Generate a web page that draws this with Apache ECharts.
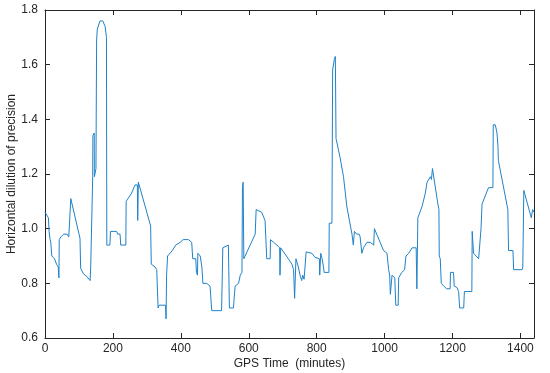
<!DOCTYPE html>
<html>
<head>
<meta charset="utf-8">
<script src="https://cdn.jsdelivr.net/npm/echarts@6/dist/echarts.min.js"></script>
<style>html,body{margin:0;padding:0;background:#fff}#c{width:550px;height:373px}</style>
</head>
<body>
<div id="c"></div>
<script>
// GPS time (minutes)
var minutes = [
  0, 5, 10, 12, 15, 17, 20, 28, 34, 39, 41, 42, 47, 55, 65, 70, 74, 76, 103, 105,
  113, 123, 133, 134.6, 139, 140.5, 141, 145, 145.4, 147, 150, 152, 154, 162, 170, 177, 181, 182, 191, 193,
  211, 214, 221, 223, 238, 239, 255, 265, 272, 273, 275, 311, 313, 324, 329, 332, 333, 336, 355, 356.5,
  358, 361, 375, 385, 398, 407, 422, 432, 435, 444, 446, 449, 450, 457, 462, 465, 476, 486, 491, 520,
  523.6, 540, 542, 543, 555, 557, 560, 570, 575, 580, 581.5, 583.5, 585.5, 619, 621.8, 638, 648, 651, 653, 663,
  664, 673, 683, 688, 691, 692, 694, 722, 727, 732, 735, 737, 739, 746, 751, 756, 759, 763, 766, 768,
  769, 786, 795, 808, 809, 811, 812, 816, 820, 822, 836, 837, 845, 847, 852, 855, 857, 869, 879, 889,
  904, 908, 911, 918, 925, 928, 933, 938, 948, 953, 958, 963, 968, 970, 997, 1007, 1011, 1012, 1015, 1017,
  1020, 1022, 1030, 1033, 1040, 1041.5, 1046, 1051, 1059, 1062, 1063, 1071, 1081, 1093, 1095, 1098, 1110, 1120, 1125, 1135,
  1138, 1141, 1157, 1160, 1161, 1164, 1167, 1174, 1183, 1193, 1194, 1203, 1205, 1213, 1218, 1221, 1233, 1235, 1257, 1258,
  1262, 1277, 1282, 1284, 1287, 1306, 1319, 1320, 1326, 1331, 1334, 1335, 1363, 1365, 1378, 1380, 1405, 1407, 1410, 1432,
  1436, 1440
];
// Horizontal dilution of precision
var hdop = [
  1.06, 1.05, 1.04, 0.99, 0.96, 0.95, 0.90, 0.89, 0.87, 0.86, 0.82, 0.96, 0.97, 0.98, 0.98, 0.97, 0.97, 1.11, 0.965, 0.855,
  0.835, 0.825, 0.81, 0.86, 0.86, 1.19, 1.34, 1.35, 1.19, 1.20, 1.22, 1.69, 1.73, 1.76, 1.76, 1.74, 1.70, 0.94, 0.94, 0.99,
  0.99, 0.98, 0.98, 0.94, 0.94, 1.10, 1.13, 1.16, 1.16, 1.03, 1.17, 1.01, 0.87, 0.86, 0.85, 0.85, 0.71, 0.72, 0.72, 0.67,
  0.83, 0.90, 0.92, 0.94, 0.95, 0.96, 0.96, 0.95, 0.89, 0.89, 0.84, 0.83, 0.91, 0.90, 0.86, 0.80, 0.80, 0.79, 0.70, 0.70,
  0.93, 0.94, 0.94, 0.71, 0.71, 0.745, 0.79, 0.80, 0.83, 0.84, 1.15, 1.17, 0.89, 0.98, 1.07, 1.06, 1.03, 1.03, 0.89, 0.89,
  0.96, 0.95, 0.94, 0.935, 0.93, 0.83, 0.93, 0.88, 0.87, 0.85, 0.745, 0.74, 0.89, 0.86, 0.83, 0.81, 0.83, 0.815, 0.82, 0.82,
  0.915, 0.91, 0.895, 0.89, 0.83, 0.83, 0.91, 0.89, 0.86, 0.84, 0.84, 1.02, 1.02, 1.58, 1.62, 1.63, 1.33, 1.26, 1.19, 1.08,
  0.98, 0.94, 0.99, 0.98, 0.98, 0.97, 0.91, 0.93, 0.95, 0.955, 0.95, 0.95, 0.94, 1.00, 0.92, 0.91, 0.91, 0.85, 0.83, 0.76,
  0.76, 0.83, 0.82, 0.72, 0.72, 0.82, 0.83, 0.84, 0.85, 0.89, 0.90, 0.91, 0.93, 0.93, 0.78, 1.04, 1.08, 1.13, 1.17, 1.19,
  1.18, 1.22, 1.09, 1.07, 0.90, 0.89, 0.80, 0.79, 0.78, 0.78, 0.84, 0.84, 0.79, 0.785, 0.77, 0.71, 0.71, 0.77, 0.77, 0.99,
  0.91, 0.89, 0.89, 1.00, 1.09, 1.15, 1.15, 1.38, 1.38, 1.35, 1.30, 1.25, 1.07, 0.92, 0.92, 0.85, 0.85, 0.86, 1.14, 1.04,
  1.07, 1.06
];
var xTicks = [0, 200, 400, 600, 800, 1000, 1200, 1400];
var yTicks = [0.6, 0.8, 1.0, 1.2, 1.4, 1.6, 1.8];

var pts = minutes.map(function (m, i) { return [m, hdop[i]]; });
var axisColor = '#262626';
var font = 'Liberation Sans, Arial, Helvetica, sans-serif';

var chart = echarts.init(document.getElementById('c'), null, { renderer: 'canvas' });
chart.setOption({
  animation: false,
  backgroundColor: '#ffffff',
  grid: { left: 45, right: 16, top: 10, bottom: 35, containLabel: false, outerBoundsMode: 'none' },
  xAxis: [{
    type: 'value', min: 0, max: 1440, interval: 200,
    name: 'GPS Time  (minutes)', nameLocation: 'middle', nameGap: 20, nameMoveOverlap: false,
    nameTextStyle: { color: axisColor, fontSize: 12, fontFamily: font },
    axisLine: { show: true, lineStyle: { color: axisColor, width: 1 } },
    axisTick: { show: true, inside: true, length: 5, lineStyle: { color: axisColor } },
    axisLabel: { color: axisColor, fontSize: 12, fontFamily: font, margin: 5, showMaxLabel: false,
      formatter: function (v) { return xTicks.indexOf(v) >= 0 ? String(v) : ''; } },
    splitLine: { show: false }
  }, {
    type: 'value', min: 0, max: 1440, interval: 200, position: 'top',
    axisLine: { show: true, onZero: false, lineStyle: { color: axisColor, width: 1 } },
    axisTick: { show: true, inside: true, length: 5, lineStyle: { color: axisColor } },
    axisLabel: { show: false }, splitLine: { show: false }
  }],
  yAxis: [{
    type: 'value', min: 0.6, max: 1.8, interval: 0.2,
    name: 'Horizontal dilution of precision', nameLocation: 'middle', nameGap: 27, nameRotate: 90,
    nameMoveOverlap: false,
    nameTextStyle: { color: axisColor, fontSize: 12, fontFamily: font },
    axisLine: { show: true, lineStyle: { color: axisColor, width: 1 } },
    axisTick: { show: true, inside: true, length: 5, lineStyle: { color: axisColor } },
    axisLabel: { color: axisColor, fontSize: 12, fontFamily: font, margin: 7,
      formatter: function (v) { return v.toFixed(1); } },
    splitLine: { show: false }
  }, {
    type: 'value', min: 0.6, max: 1.8, interval: 0.2, position: 'right',
    axisLine: { show: true, onZero: false, lineStyle: { color: axisColor, width: 1 } },
    axisTick: { show: true, inside: true, length: 5, lineStyle: { color: axisColor } },
    axisLabel: { show: false }, splitLine: { show: false }
  }],
  series: [{
    type: 'line', data: pts, xAxisIndex: 0, yAxisIndex: 0,
    showSymbol: false, symbol: 'none', smooth: false,
    lineStyle: { color: '#1f82c8', width: 1 },
    silent: true
  }]
});
</script>
</body>
</html>
